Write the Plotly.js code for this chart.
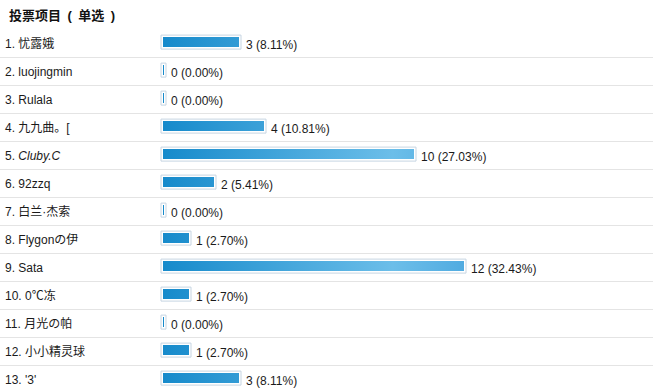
<!DOCTYPE html>
<html>
<head>
<meta charset="utf-8">
<script src="https://cdn.plot.ly/plotly-3.0.1.min.js"></script>
<style>
  html, body { margin: 0; padding: 0; background: #ffffff; }
  #chart { width: 653px; height: 392px; }
</style>
</head>
<body>
<div id="chart"></div>
<script>
// ---- data ----
const headerText = '投票项目\u2002(\u2002单选\u2002)';
const names = ['忧露娥', 'luojingmin', 'Rulala', '九九曲。[', 'Cluby.C', '92zzq', '白兰·杰索',
               'Flygonの伊', 'Sata', '0℃冻', '月光の帕', '小小精灵球', "'3'"];
const votes = [3, 0, 0, 4, 10, 2, 0, 1, 12, 1, 0, 1, 3];
const percents = ['8.11', '0.00', '0.00', '10.81', '27.03', '5.41', '0.00',
                  '2.70', '32.43', '2.70', '0.00', '2.70', '8.11'];
const italicNames = ['Cluby.C'];

// ---- styling constants ----
const W = 653, H = 392;
const PX_PER_VOTE = 25;      // horizontal scale
const BAR_LEFT_PX = 161;     // left edge of bar outline
const MIN_PAD = 0.2;         // minimum bar stub (in vote units, = 5px)
const INSET = 0.08;          // 2px inset of coloured fill inside outline
const ROW_PX = 28, TOP = 29;

const x0 = -MIN_PAD - BAR_LEFT_PX / PX_PER_VOTE;
const x1 = x0 + W / PX_PER_VOTE;
const plotH = H - TOP;
const yTop = -0.5 - 0.5 / ROW_PX;
const yBottom = yTop + plotH / ROW_PX;

const cats = names.map((n, i) => (i + 1) + '. ' + n);

const outline = {
  type: 'bar', orientation: 'h',
  y: cats,
  x: votes.map(v => v + MIN_PAD),
  base: -MIN_PAD,
  width: 0.5, offset: -0.30,
  marker: { color: '#ffffff', line: { color: '#c6d5e2', width: 1 } },
  hoverinfo: 'skip'
};
const fill = {
  type: 'bar', orientation: 'h',
  y: cats,
  x: votes.map(v => v + MIN_PAD - 2 * INSET),
  base: -MIN_PAD + INSET,
  width: 0.357, offset: -0.232,
  marker: { color: '#1f8fcf', line: { width: 0 } },
  hoverinfo: 'skip'
};

const annotations = [];
annotations.push({
  xref: 'paper', yref: 'paper', x: 0, y: 1, xanchor: 'left', yanchor: 'middle',
  xshift: 7, yshift: 14, showarrow: false,
  text: '<b>' + headerText + '</b>',
  font: { size: 13, color: '#111111' }
});
names.forEach((n, i) => {
  const label = italicNames.includes(n) ? '<i>' + n + '</i>' : n;
  annotations.push({
    xref: 'paper', yref: 'y', x: 0, y: cats[i], xanchor: 'left', yanchor: 'middle',
    xshift: 3, showarrow: false,
    text: (i + 1) + '. ' + label,
    font: { size: 12, color: '#1a1a1a' }
  });
  annotations.push({
    xref: 'x', yref: 'y', x: votes[i], y: cats[i], xanchor: 'left', yanchor: 'middle',
    xshift: 3, yshift: -1, showarrow: false,
    text: votes[i] + ' (' + percents[i] + '%)',
    font: { size: 12, color: '#1a1a1a' }
  });
});

const layout = {
  width: W, height: H,
  margin: { l: 0, r: 0, t: TOP, b: 0, pad: 0 },
  paper_bgcolor: '#ffffff', plot_bgcolor: '#ffffff',
  barmode: 'overlay', showlegend: false,
  font: { family: '"Liberation Sans", Arial, "Noto Sans CJK SC", sans-serif', size: 12, color: '#1a1a1a' },
  xaxis: { range: [x0, x1], visible: false, fixedrange: true },
  yaxis: {
    type: 'category', categoryorder: 'array', categoryarray: cats,
    range: [yBottom, yTop], tickson: 'boundaries',
    showgrid: true, gridcolor: '#e4e4e4', gridwidth: 1,
    showticklabels: false, ticks: '', zeroline: false, showline: false, fixedrange: true
  },
  annotations: annotations
};

Plotly.newPlot('chart', [outline, fill], layout, { staticPlot: true, displayModeBar: false })
  .then(gd => {
    const svgNS = 'http://www.w3.org/2000/svg';
    const svg = gd.querySelector('svg.main-svg');
    let defs = svg.querySelector('defs');
    if (!defs) { defs = document.createElementNS(svgNS, 'defs'); svg.insertBefore(defs, svg.firstChild); }
    const grad = document.createElementNS(svgNS, 'linearGradient');
    grad.setAttribute('id', 'barGrad');
    grad.setAttribute('gradientUnits', 'userSpaceOnUse');
    grad.setAttribute('x1', String(BAR_LEFT_PX)); grad.setAttribute('x2', '470');
    grad.setAttribute('y1', '0'); grad.setAttribute('y2', '0');
    [['0', '#168acb'], ['0.75', '#6cbee9'], ['1', '#4faae0']].forEach(([o, c]) => {
      const s = document.createElementNS(svgNS, 'stop');
      s.setAttribute('offset', o); s.setAttribute('stop-color', c);
      grad.appendChild(s);
    });
    defs.appendChild(grad);
    const traces = gd.querySelectorAll('.barlayer .trace');
    if (traces[1]) {
      traces[1].querySelectorAll('path').forEach(p => { p.style.fill = 'url(#barGrad)'; });
    }
  });
</script>
</body>
</html>
